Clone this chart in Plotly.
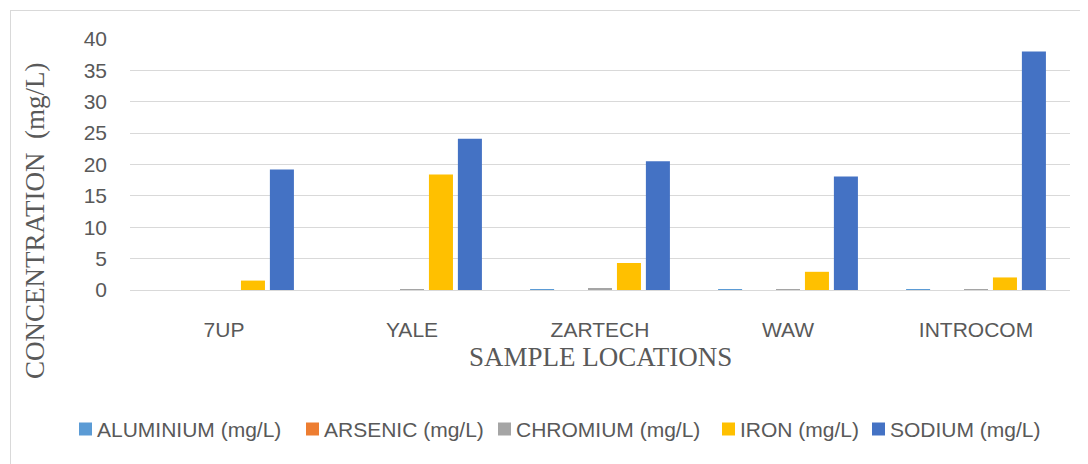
import plotly.graph_objects as go

categories = ["7UP", "YALE", "ZARTECH", "WAW", "INTROCOM"]
aluminium = [0.0, 0.0, 0.1, 0.05, 0.1]
arsenic = [0.0, 0.0, 0.0, 0.0, 0.0]
chromium = [0.0, 0.05, 0.3, 0.1, 0.1]
iron = [1.5, 18.4, 4.3, 2.9, 2.0]
sodium = [19.2, 24.1, 20.5, 18.1, 38.0]

names = ["ALUMINIUM (mg/L)", "ARSENIC (mg/L)", "CHROMIUM (mg/L)", "IRON (mg/L)", "SODIUM (mg/L)"]
values = [aluminium, arsenic, chromium, iron, sodium]
colors = ["#5B9BD5", "#ED7D31", "#A5A5A5", "#FFC000", "#4472C4"]

# page offset (browser body margin)
OFF = 8
W, H = 1088 - OFF, 464 - OFF
L, R, T, B = 130 - OFF, 18, 39 - OFF, 174
pw, ph = W - L - R, H - T - B


def px(x):
    """reference-window x pixel -> paper coordinate"""
    return (x - OFF - L) / pw


def py(y):
    """reference-window y pixel -> paper coordinate"""
    return (H - B - (y - OFF)) / ph


fig = go.Figure()
for name, vals, col in zip(names, values, colors):
    fig.add_trace(go.Bar(x=categories, y=vals, name=name, marker_color=col,
                         marker_line_width=0, showlegend=False))

sans = "Liberation Sans, Arial, sans-serif"
serif = "Liberation Serif, Times New Roman, serif"
grey = "#595959"

annotations = [
    dict(text="SAMPLE LOCATIONS", xref="paper", yref="paper", x=px(600), y=py(357),
         xanchor="center", yanchor="middle", showarrow=False,
         font=dict(family=serif, size=27, color=grey)),
    dict(text="CONCENTRATION  (mg/L)", xref="paper", yref="paper", x=px(35), y=py(221),
         xanchor="center", yanchor="middle", showarrow=False, textangle=-90,
         font=dict(family=serif, size=27, color=grey)),
]
shapes = [
    dict(type="line", xref="paper", yref="paper", x0=px(10), x1=px(1100), y0=py(10.5), y1=py(10.5),
         line=dict(color="#D9D9D9", width=1)),
    dict(type="line", xref="paper", yref="paper", x0=px(10.5), x1=px(10.5), y0=py(10), y1=py(480),
         line=dict(color="#D9D9D9", width=1)),
]

# manual legend (Excel-style small squares)
legend_sq_x = [79, 306, 498, 722, 872]
legend_y = 429
for name, col, sx in zip(names, colors, legend_sq_x):
    shapes.append(dict(type="rect", xref="paper", yref="paper",
                       x0=px(sx), x1=px(sx + 13), y0=py(legend_y - 6.5), y1=py(legend_y + 6.5),
                       fillcolor=col, line=dict(width=0)))
    annotations.append(dict(text=name, xref="paper", yref="paper", x=px(sx + 16), y=py(legend_y),
                            xanchor="left", yanchor="middle", showarrow=False,
                            font=dict(family=sans, size=21, color=grey)))

fig.update_layout(
    width=W, height=H,
    margin=dict(l=L, r=R, t=T, b=B),
    paper_bgcolor="white", plot_bgcolor="white",
    barmode="group", bargap=0.23, bargroupgap=0.17,
    showlegend=False,
    xaxis=dict(showgrid=False, showline=True, linecolor="#D9D9D9", linewidth=1,
               ticks="", ticklabelstandoff=21,
               tickfont=dict(family=sans, size=21, color=grey)),
    yaxis=dict(range=[0, 40], dtick=5, showgrid=True, gridcolor="#D9D9D9", gridwidth=1,
               zeroline=False, showline=False, ticks="", ticklabelstandoff=22,
               tickfont=dict(family=sans, size=21, color=grey)),
    annotations=annotations,
    shapes=shapes,
)

fig.write_html("out.html")
